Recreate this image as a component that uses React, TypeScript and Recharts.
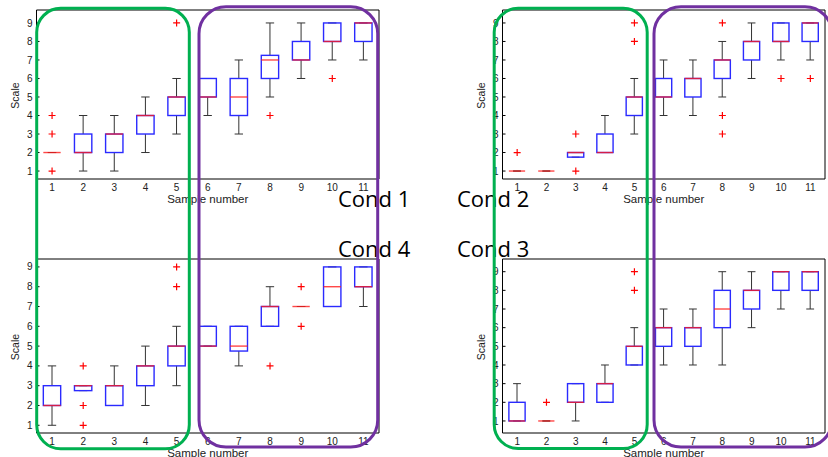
import React from "react";
import { ComposedChart, XAxis, YAxis, Bar, Scatter } from "recharts";

const samples = ["1", "2", "3", "4", "5", "6", "7", "8", "9", "10", "11"];
const scaleTicks = [1, 2, 3, 4, 5, 6, 7, 8, 9];

// Cond 1 (top left)
const cond1Low = [2, 1, 1, 2, 3, 4, 3, 5, 6, 7, 7];
const cond1Q1 = [2, 2, 2, 3, 4, 5, 4, 6, 7, 8, 8];
const cond1Median = [2, 2, 3, 4, 5, 5, 5, 7, 7, 8, 9];
const cond1Q3 = [2, 3, 3, 4, 5, 6, 6, 7.25, 8, 9, 9];
const cond1High = [2, 4, 4, 5, 6, 6, 7, 9, 9, 9, 9];
const cond1Outliers = [[4, 3, 1], [], [], [], [9], [], [], [4], [], [6], []];

// Cond 2 (top right)
const cond2Low = [1, 1, 1.75, 2, 3, 4, 4, 5, 6, 7, 7];
const cond2Q1 = [1, 1, 1.75, 2, 4, 5, 5, 6, 7, 8, 8];
const cond2Median = [1, 1, 2, 2, 5, 5, 6, 7, 8, 8, 9];
const cond2Q3 = [1, 1, 2, 3, 5, 6, 6, 7, 8, 9, 9];
const cond2High = [1, 1, 2, 4, 6, 7, 7, 8, 9, 9, 9];
const cond2Outliers = [[2], [], [3, 1], [], [9, 8], [], [], [9, 4, 3], [], [6], [6]];

// Cond 3 (bottom right)
const cond3Low = [1, 1, 1, 2, 4, 4, 4, 4, 6, 7, 7];
const cond3Q1 = [1, 1, 2, 2, 4, 5, 5, 6, 7, 8, 8];
const cond3Median = [1, 1, 2, 3, 5, 6, 6, 7, 8, 9, 9];
const cond3Q3 = [2, 1, 3, 3, 5, 6, 6, 8, 8, 9, 9];
const cond3High = [3, 1, 3, 4, 6, 7, 7, 9, 9, 9, 9];
const cond3Outliers = [[], [2], [], [], [9, 8], [], [], [], [], [], []];

// Cond 4 (bottom left)
const cond4Low = [1, 2.75, 2, 2, 3, 5, 4, 6, 7, 7, 7];
const cond4Q1 = [2, 2.75, 2, 3, 4, 5, 4.75, 6, 7, 7, 8];
const cond4Median = [2, 3, 3, 4, 5, 5, 5, 7, 7, 8, 8];
const cond4Q3 = [3, 3, 3, 4, 5, 6, 6, 7, 7, 9, 9];
const cond4High = [4, 3, 4, 5, 6, 6, 6, 8, 7, 9, 9];
const cond4Outliers = [[], [4, 2, 1], [], [], [9, 8], [], [], [4], [8, 6], [], []];

const makeRows = (lo: number[], q1: number[], med: number[], q3: number[], hi: number[]) =>
  samples.map((name, i) => ({ name, lo: lo[i], q1: q1[i], med: med[i], q3: q3[i], hi: hi[i] }));

const makeOutliers = (out: number[][]) =>
  samples.flatMap((name, i) => out[i].map((v) => ({ name, v })));

const axisFont = "'Liberation Sans', Arial, sans-serif";

const BoxShape = (props: any) => {
  const { x, y, width, height, payload } = props;
  const top = Math.min(y, y + height);
  const bottom = Math.max(y, y + height);
  const span = payload.hi - payload.lo;
  const toY = (v: number) => (span === 0 ? top : top + ((payload.hi - v) / span) * (bottom - top));
  const cx = x + width / 2;
  const bw = width * 0.56;
  const cw = width * 0.27;
  const yq1 = toY(payload.q1);
  const yq3 = toY(payload.q3);
  const ym = toY(payload.med);
  return (
    <g>
      <line x1={cx} x2={cx} y1={top} y2={yq3} stroke="#333" />
      <line x1={cx} x2={cx} y1={yq1} y2={bottom} stroke="#333" />
      <line x1={cx - cw / 2} x2={cx + cw / 2} y1={top} y2={top} stroke="#333" />
      <line x1={cx - cw / 2} x2={cx + cw / 2} y1={bottom} y2={bottom} stroke="#333" />
      <rect x={cx - bw / 2} y={yq3} width={bw} height={yq1 - yq3} fill="none" stroke="#2a2aff" strokeWidth={1.4} />
      <line x1={cx - bw / 2} x2={cx + bw / 2} y1={ym} y2={ym} stroke="#ff1a1a" strokeOpacity={0.8} strokeWidth={1.4} />
    </g>
  );
};

const PlusShape = (props: any) => {
  const { cx, cy } = props;
  return <path d={`M${cx - 3.5},${cy}h7M${cx},${cy - 3.5}v7`} stroke="#ff0000" strokeWidth={1.2} fill="none" />;
};

const xLabel = (props: any) => {
  const vb = props.viewBox;
  return (
    <text x={vb.x + vb.width / 2} y={vb.y + 20} textAnchor="middle" dominantBaseline="central" fontSize={11.5} fontFamily={axisFont} fill="#222">
      Sample number
    </text>
  );
};

const yLabel = (props: any) => {
  const vb = props.viewBox;
  const cx = vb.x + 14.5;
  const cy = vb.y + vb.height / 2 + 1;
  return (
    <text x={cx} y={cy} transform={`rotate(-90, ${cx}, ${cy})`} textAnchor="middle" dominantBaseline="central" fontSize={10.5} fontFamily={axisFont} fill="#222">
      Scale
    </text>
  );
};

type PanelProps = {
  left: number;
  top: number;
  width: number;
  height: number;
  domain: [number, number];
  rows: any[];
  outliers: any[];
};

const Panel = ({ left, top, width, height, domain, rows, outliers }: PanelProps) => (
  <div style={{ position: "absolute", left, top }}>
    <ComposedChart width={width} height={height} data={rows} margin={{ top: 9, right: 2, left: 0, bottom: 6 }} barCategoryGap={0}>
      <XAxis
        dataKey="name"
        allowDuplicatedCategory={false}
        interval={0}
        height={30}
        axisLine={{ stroke: "#000" }}
        tickLine={false}
        tickSize={0}
        tickMargin={5}
        tick={{ fontSize: 10, fill: "#222", fontFamily: axisFont }}
        label={xLabel}
      />
      <XAxis xAxisId="top" orientation="top" dataKey="name" allowDuplicatedCategory={false} height={1} tick={false} tickLine={false} axisLine={{ stroke: "#000" }} />
      <YAxis
        type="number"
        domain={domain}
        ticks={scaleTicks}
        allowDataOverflow
        width={36.5}
        axisLine={{ stroke: "#000" }}
        tickLine={{ stroke: "#000" }}
        tickSize={-3}
        tickMargin={7}
        tick={{ fontSize: 10, fill: "#222", fontFamily: axisFont }}
        label={yLabel}
      />
      <YAxis
        yAxisId="right"
        orientation="right"
        type="number"
        domain={domain}
        ticks={scaleTicks}
        allowDataOverflow
        width={1}
        tick={false}
        tickSize={-3}
        axisLine={{ stroke: "#000" }}
        tickLine={{ stroke: "#000" }}
      />
      <Bar dataKey={(d: any) => [d.lo, d.hi]} shape={BoxShape} isAnimationActive={false} />
      <Scatter data={outliers} dataKey="v" shape={PlusShape} isAnimationActive={false} />
    </ComposedChart>
  </div>
);

const condFont = "'Open Sans', Calibri, sans-serif";

export default function App() {
  return (
    <div style={{ position: "absolute", left: 0, top: 0, width: 828, height: 457, overflow: "hidden", background: "#fff" }}>
      <Panel left={0} top={0} width={382} height={215} domain={[0.57, 9.7]}
        rows={makeRows(cond1Low, cond1Q1, cond1Median, cond1Q3, cond1High)} outliers={makeOutliers(cond1Outliers)} />
      <Panel left={466} top={0} width={362} height={215} domain={[0.57, 9.7]}
        rows={makeRows(cond2Low, cond2Q1, cond2Median, cond2Q3, cond2High)} outliers={makeOutliers(cond2Outliers)} />
      <Panel left={0} top={249} width={382} height={220} domain={[0.61, 9.4]}
        rows={makeRows(cond4Low, cond4Q1, cond4Median, cond4Q3, cond4High)} outliers={makeOutliers(cond4Outliers)} />
      <Panel left={466} top={249} width={362} height={220} domain={[0.355, 9.68]}
        rows={makeRows(cond3Low, cond3Q1, cond3Median, cond3Q3, cond3High)} outliers={makeOutliers(cond3Outliers)} />
      <svg width={828} height={457} style={{ position: "absolute", left: 0, top: 0, pointerEvents: "none" }}>
        <g fontFamily={condFont} fontSize={22} fill="#000">
          <text x={338} y={207}>Cond 1</text>
          <text x={457} y={207}>Cond 2</text>
          <text x={338} y={257}>Cond 4</text>
          <text x={457} y={257}>Cond 3</text>
        </g>
        <g fill="none" strokeWidth={3}>
          <rect x={36.7} y={8.3} width={152.6} height={440.5} rx={24} stroke="#00b050" />
          <rect x={199} y={6.7} width={178.7} height={440.3} rx={27} stroke="#7030a0" />
          <rect x={494.2} y={8.3} width={153} height={440.2} rx={24} stroke="#00b050" />
          <rect x={654} y={6.7} width={178} height={440.3} rx={27} stroke="#7030a0" />
        </g>
      </svg>
    </div>
  );
}
